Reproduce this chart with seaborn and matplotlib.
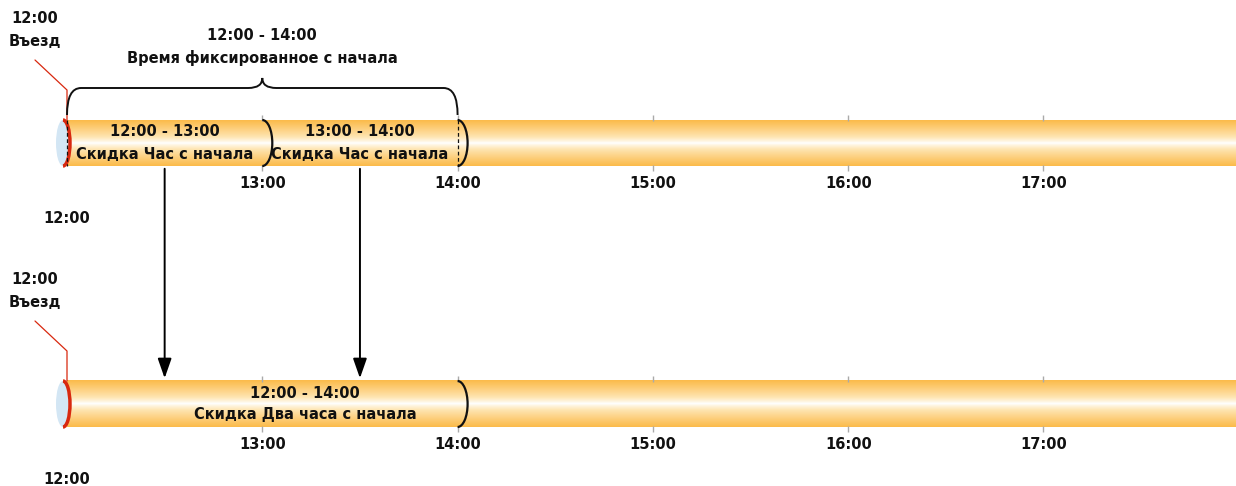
import numpy as np
import pandas as pd
import matplotlib
matplotlib.use("Agg")
import matplotlib.pyplot as plt
import seaborn as sns
from matplotlib.patches import Ellipse, Arc, PathPatch
from matplotlib.path import Path
from matplotlib.colors import LinearSegmentedColormap

# data
hours = [12, 13, 14, 15, 16, 17]
hour_labels = ["12:00", "13:00", "14:00", "15:00", "16:00", "17:00"]
entry_label = "12:00\nВъезд"
fixed_span = (12, 14)
fixed_label = "12:00 - 14:00\nВремя фиксированное с начала"
top_segments = [(12, 13), (13, 14)]
top_segment_labels = ["12:00 - 13:00\nСкидка Час с начала", "13:00 - 14:00\nСкидка Час с начала"]
bottom_segment = (12, 14)
bottom_segment_label = "12:00 - 14:00\nСкидка Два часа с начала"
arrow_hours = [12.5, 13.5]

sns.set_theme(style="white")
plt.rcParams["font.family"] = ["DejaVu Sans"]

PX = 195.3  # pixels per hour
fig = plt.figure(figsize=(12.36, 4.86), dpi=100)
ax = fig.add_axes([0, 0, 1, 1])
ax.set_xlim(12 - 67 / PX, 12 + (1236 - 67) / PX)
ax.set_ylim(486, 0)
ax.axis("off")

cmap = LinearSegmentedColormap.from_list("tube", ["#ffffff", "#fee6b4", "#fdd080", "#fbbb4a"])
grad = np.abs(np.linspace(-1, 1, 200)).reshape(-1, 1) ** 0.8
fs = 10.5
tc = "#111111"
bar_h = 46


def tube(yc):
    top, bot = yc - bar_h / 2, yc + bar_h / 2
    ax.imshow(grad, cmap=cmap, aspect="auto", extent=(12, ax.get_xlim()[1], bot, top), zorder=1)
    ax.add_patch(Ellipse((12 - 4 / PX, yc), 14 / PX, bar_h, facecolor="#d3e6f4", edgecolor="none", zorder=2))
    ax.add_patch(Arc((12 - 4 / PX, yc), 14 / PX, bar_h, theta1=-90, theta2=90, color="#d8280f", lw=2.5, zorder=3))
    # hour ticks
    ticks = pd.DataFrame({"x": hours[1:] * 2, "y": [top - 2] * 5 + [bot + 2] * 5})
    sns.scatterplot(data=ticks, x="x", y="y", marker="|", s=16, color="#aaaaaa", linewidth=1, ax=ax, zorder=2)
    for h, lab in zip(hours[1:], hour_labels[1:]):
        ax.text(h, bot + 17, lab, ha="center", va="center", fontsize=fs, fontweight="bold", color=tc)
    ax.text(12, bot + 52, hour_labels[0], ha="center", va="center", fontsize=fs, fontweight="bold", color=tc)
    # entry callout
    x0 = ax.get_xlim()[0]
    ax.text(x0 + 35 / PX, top - 90, entry_label, ha="center", va="center", fontsize=fs,
            fontweight="bold", color=tc, linespacing=1.6)
    ax.plot([x0 + 35 / PX, 12, 12], [top - 60, top - 30, top], color="#d8280f", lw=0.9, zorder=3)


def seg_end(x, yc, dashed=False):
    ax.add_patch(Arc((x, yc), 20 / PX, bar_h, theta1=-90, theta2=90, color=tc, lw=1.6, zorder=4))
    if dashed:
        ax.plot([x, x], [yc - bar_h / 2, yc + bar_h / 2], color=tc, lw=0.9, ls=(0, (3, 2)), zorder=4)


y1, y2 = 143, 404
tube(y1)
tube(y2)

# top segments
ax.plot([12, 12], [y1 - bar_h / 2, y1 + bar_h / 2], color=tc, lw=0.9, ls=(0, (3, 2)), zorder=4)
for (a, b), lab in zip(top_segments, top_segment_labels):
    seg_end(b, y1, dashed=(b == 14))
    ax.text((a + b) / 2, y1, lab, ha="center", va="center", fontsize=fs, fontweight="bold",
            color=tc, linespacing=1.6, zorder=5)

# fixed brace
a, b = fixed_span
m = (a + b) / 2
r = 14 / PX
verts = [(a, 115), (a, 88), (a + r, 88), (m - r, 88), (m, 88), (m, 78),
         (m, 88), (m + r, 88), (b - r, 88), (b, 88), (b, 115)]
codes = [Path.MOVETO, Path.CURVE3, Path.CURVE3, Path.LINETO, Path.CURVE3, Path.CURVE3,
         Path.CURVE3, Path.CURVE3, Path.LINETO, Path.CURVE3, Path.CURVE3]
ax.add_patch(PathPatch(Path(verts, codes), fill=False, color=tc, lw=1.4, zorder=4))
ax.text(m, 47, fixed_label, ha="center", va="center", fontsize=fs, fontweight="bold",
        color=tc, linespacing=1.6)

# bottom segment
seg_end(bottom_segment[1], y2)
ax.text(12 + 238 / PX, y2, bottom_segment_label, ha="center", va="center", fontsize=fs,
        fontweight="bold", color=tc, linespacing=1.5, zorder=5)

# arrows
for h in arrow_hours:
    ax.annotate("", xy=(h, y2 - bar_h / 2), xytext=(h, y1 + bar_h / 2),
                arrowprops=dict(arrowstyle="-|>,head_length=1.0,head_width=0.35", color="black", lw=1.4),
                zorder=5)

fig.savefig("out.png", dpi=100)
